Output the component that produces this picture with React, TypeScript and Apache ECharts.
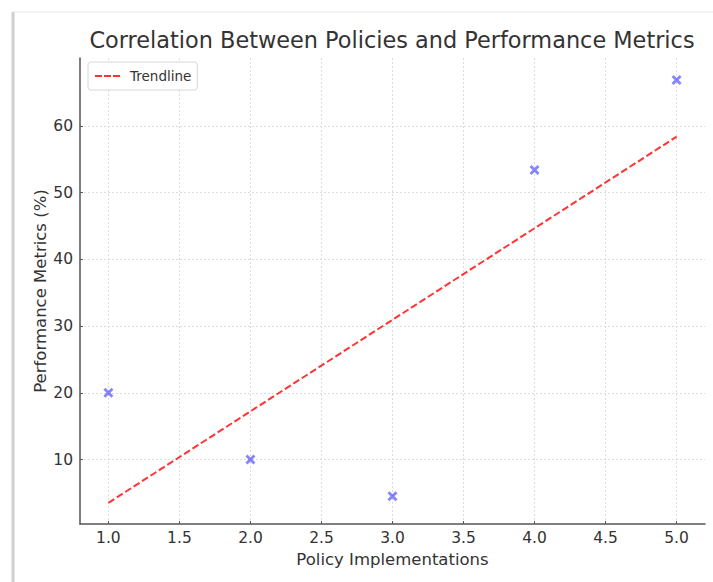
import React, { useEffect, useRef } from "react";
import * as echarts from "echarts";

const policyX = [1, 2, 3, 4, 5];
const performanceY = [20, 10, 4.5, 53.4, 66.9];
const trendX = [1, 5];
const trendY = [3.5, 58.4];
const xTicks = [1.0, 1.5, 2.0, 2.5, 3.0, 3.5, 4.0, 4.5, 5.0];
const yTicks = [10, 20, 30, 40, 50, 60];

const FONT = "DejaVu Sans";
const X_SYMBOL =
  "path://M2,0 L5,3 L8,0 L10,2 L7,5 L10,8 L8,10 L5,7 L2,10 L0,8 L3,5 L0,2 Z";
const DASH_ICON = "path://M0,0 H7 V2 H0 Z M9,0 H16 V2 H9 Z M18,0 H25 V2 H18 Z";

export default function App() {
  const ref = useRef<HTMLDivElement>(null);
  useEffect(() => {
    document.body.style.margin = "0";
    const chart = echarts.init(ref.current!, undefined, { renderer: "svg" });
    const gridLine = { show: true, lineStyle: { color: "#dcdcdc", type: [2, 2], width: 1 } };
    chart.setOption({
      animation: false,
      backgroundColor: "#ffffff",
      textStyle: { fontFamily: FONT },
      graphic: [
        { type: "line", shape: { x1: 13, y1: 12, x2: 13, y2: 582 }, style: { stroke: "#cfcfcf", lineWidth: 3 }, silent: true },
        { type: "line", shape: { x1: 13, y1: 12, x2: 713, y2: 12 }, style: { stroke: "#e6e6e6", lineWidth: 1 }, silent: true },
        {
          type: "text",
          x: 392,
          y: 29,
          style: {
            text: "Correlation Between Policies and Performance Metrics",
            textAlign: "center",
            textVerticalAlign: "top",
            fontFamily: FONT,
            fontSize: 22.4,
            fill: "#333333",
          },
        },
      ],
      legend: {
        left: 88,
        top: 62,
        data: [{ name: "Trendline", icon: DASH_ICON }],
        orient: "vertical",
        itemWidth: 25,
        itemHeight: 2,
        itemGap: 10,
        padding: [7, 6, 7, 7],
        borderColor: "#d8d8d8",
        borderWidth: 1,
        borderRadius: 3,
        backgroundColor: "#ffffff",
        textStyle: { fontFamily: FONT, fontSize: 13.5, color: "#333333", padding: [0, 0, 0, 5] },
      },
      grid: { left: 80, right: 8, top: 58, bottom: 58 },
      xAxis: {
        type: "value",
        min: 0.8,
        max: 5.2,
        name: "Policy Implementations",
        nameLocation: "middle",
        nameGap: 25,
        nameTextStyle: { fontFamily: FONT, fontSize: 16.5, color: "#333333" },
        axisLine: { show: true, onZero: false, lineStyle: { color: "#555555", width: 1.5 } },
        axisTick: { show: true, inside: true, length: 3, customValues: xTicks, lineStyle: { color: "#555555" } },
        axisLabel: {
          customValues: xTicks,
          formatter: (v: number) => v.toFixed(1),
          fontFamily: FONT,
          fontSize: 15.5,
          color: "#333333",
          margin: 6,
        },
        splitLine: gridLine,
      },
      yAxis: {
        type: "value",
        min: 0.33,
        max: 70.2,
        name: "Performance Metrics (%)",
        nameLocation: "middle",
        nameGap: 31,
        nameMoveOverlap: false,
        nameTextStyle: { fontFamily: FONT, fontSize: 16.5, color: "#333333" },
        axisLine: { show: true, onZero: false, lineStyle: { color: "#555555", width: 1.5 } },
        axisTick: { show: true, inside: true, length: 3, customValues: yTicks, lineStyle: { color: "#555555" } },
        axisLabel: {
          customValues: yTicks,
          fontFamily: FONT,
          fontSize: 15.5,
          color: "#333333",
          margin: 7,
        },
        splitLine: gridLine,
      },
      series: [
        {
          name: "Data",
          type: "scatter",
          data: policyX.map((x, i) => [x, performanceY[i]]),
          symbol: X_SYMBOL,
          symbolSize: 10,
          itemStyle: { color: "rgba(0,0,255,0.6)" },
          z: 3,
        },
        {
          name: "Trendline",
          type: "line",
          data: trendX.map((x, i) => [x, trendY[i]]),
          symbol: "none",
          lineStyle: { color: "rgba(255,0,0,0.8)", width: 2, type: [7, 3] },
          itemStyle: { color: "rgba(255,0,0,0.8)" },
          z: 2,
        },
      ],
    });
    return () => chart.dispose();
  }, []);
  return <div ref={ref} style={{ width: 713, height: 582 }} />;
}
